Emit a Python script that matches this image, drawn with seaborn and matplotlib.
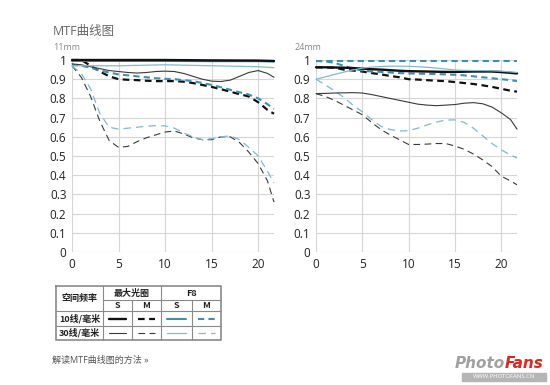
import numpy as np
import pandas as pd
import matplotlib
matplotlib.use("Agg")
import matplotlib.pyplot as plt
import seaborn as sns

# ---- data ----
x_full = [0, 1, 2, 3, 4, 5, 6, 7, 8, 9, 10, 11, 12, 13, 14, 15, 16, 17, 18, 19, 20, 21, 21.7]
x_flat = [0, 5, 10, 15, 20, 21.7]

# 11mm
w_10s_max = [1.0, 1.0, 1.0, 0.998, 0.997, 0.995]
w_10s_f8 = [0.995, 0.995, 0.995, 0.994, 0.994, 0.992]
w_30s_f8 = [0.97, 0.97, 0.975, 0.97, 0.965, 0.96]
w_30s_max = [0.98, 0.975, 0.965, 0.955, 0.945, 0.94, 0.935, 0.932, 0.935, 0.94, 0.942, 0.94,
             0.93, 0.915, 0.9, 0.89, 0.888, 0.895, 0.915, 0.935, 0.945, 0.93, 0.91]
w_10m_max = [1.0, 1.0, 0.97, 0.94, 0.915, 0.9, 0.897, 0.895, 0.892, 0.89, 0.89, 0.89,
             0.887, 0.88, 0.87, 0.86, 0.848, 0.835, 0.822, 0.81, 0.78, 0.74, 0.72]
w_10m_f8 = [0.975, 0.97, 0.96, 0.945, 0.935, 0.925, 0.92, 0.915, 0.91, 0.905, 0.902, 0.9,
            0.895, 0.89, 0.88, 0.87, 0.858, 0.845, 0.832, 0.82, 0.8, 0.77, 0.745]
w_30m_max = [0.97, 0.91, 0.81, 0.68, 0.58, 0.545, 0.55, 0.575, 0.595, 0.61, 0.625, 0.63,
             0.615, 0.595, 0.585, 0.585, 0.6, 0.6, 0.57, 0.52, 0.46, 0.37, 0.26]
w_30m_f8 = [0.97, 0.93, 0.85, 0.72, 0.65, 0.64, 0.645, 0.65, 0.655, 0.658, 0.657, 0.645,
            0.62, 0.6, 0.585, 0.59, 0.6, 0.605, 0.585, 0.545, 0.5, 0.42, 0.36]

# 24mm
t_10s_max = [0.962, 0.962, 0.961, 0.96, 0.958, 0.955, 0.952, 0.95, 0.947, 0.944, 0.942, 0.941,
             0.94, 0.939, 0.938, 0.938, 0.939, 0.94, 0.94, 0.94, 0.937, 0.933, 0.93]
t_30s_f8 = [0.9, 0.912, 0.925, 0.937, 0.948, 0.958, 0.963, 0.966, 0.968, 0.968, 0.967, 0.965,
            0.962, 0.958, 0.953, 0.948, 0.946, 0.945, 0.945, 0.944, 0.942, 0.938, 0.935]
t_10m_f8_top = [0.995, 0.995, 0.995, 0.995, 0.995, 0.995]
t_10m_f8 = [0.995, 0.993, 0.985, 0.97, 0.955, 0.945, 0.94, 0.938, 0.935, 0.932, 0.93, 0.929,
            0.928, 0.927, 0.925, 0.923, 0.92, 0.915, 0.91, 0.905, 0.9, 0.895, 0.89]
t_10m_max = [0.962, 0.961, 0.96, 0.95, 0.945, 0.94, 0.932, 0.925, 0.917, 0.91, 0.9, 0.898,
             0.895, 0.892, 0.89, 0.885, 0.88, 0.875, 0.868, 0.86, 0.85, 0.84, 0.835]
t_30s_max = [0.825, 0.826, 0.828, 0.829, 0.83, 0.828, 0.82, 0.81, 0.8, 0.79, 0.78, 0.77,
             0.765, 0.762, 0.765, 0.768, 0.775, 0.778, 0.772, 0.755, 0.725, 0.69, 0.64]
t_30m_max = [0.825, 0.81, 0.79, 0.765, 0.74, 0.715, 0.675, 0.638, 0.61, 0.585, 0.56, 0.56,
             0.562, 0.565, 0.565, 0.552, 0.535, 0.51, 0.48, 0.445, 0.395, 0.37, 0.35]
t_30m_f8 = [0.9, 0.87, 0.84, 0.805, 0.765, 0.73, 0.69, 0.655, 0.638, 0.63, 0.632, 0.645,
            0.662, 0.677, 0.687, 0.688, 0.675, 0.645, 0.605, 0.565, 0.532, 0.505, 0.489]

y_ticks = [0, 0.1, 0.2, 0.3, 0.4, 0.5, 0.6, 0.7, 0.8, 0.9, 1]
y_labels = ["0", "0.1", "0.2", "0.3", "0.4", "0.5", "0.6", "0.7", "0.8", "0.9", "1"]
x_ticks = [0, 5, 10, 15, 20]

# ---- styles ----
BLACK, DARK = "#111111", "#3a3a3a"
BLUE, LBLUE = "#3f8fb5", "#7ebbd0"
styles = {
    "10s_max": dict(color=BLACK, lw=1.7, ls="-"),
    "10m_max": dict(color=BLACK, lw=1.6, ls=(0, (3, 2))),
    "30s_max": dict(color=DARK, lw=0.8, ls="-"),
    "30m_max": dict(color=DARK, lw=0.8, ls=(0, (6, 4))),
    "10s_f8": dict(color=BLUE, lw=1.5, ls="-"),
    "10m_f8": dict(color=BLUE, lw=1.5, ls=(0, (3, 2))),
    "30s_f8": dict(color=LBLUE, lw=0.9, ls="-"),
    "30m_f8": dict(color=LBLUE, lw=0.9, ls=(0, (6, 4))),
}

sns.set_style("white")
plt.rcParams["font.family"] = ["Open Sans", "Noto Sans CJK SC", "DejaVu Sans"]

fig = plt.figure(figsize=(5.5, 3.85), dpi=100)
W, H = 550.0, 385.0


def add_panel(left_px, right_px):
    ax = fig.add_axes([left_px / W, 1 - 252 / H, (right_px - left_px) / W, (252 - 60) / H])
    return ax


def draw(ax, x, y, key):
    s = styles[key]
    sns.lineplot(x=x, y=y, ax=ax, color=s["color"], lw=s["lw"], linestyle=s["ls"],
                 clip_on=False, estimator=None, sort=False)


def style_axes(ax):
    ax.set_xlim(0, 21.7)
    ax.set_ylim(0, 1)
    ax.set_xticks(x_ticks)
    ax.set_yticks(y_ticks)
    ax.set_yticklabels(y_labels)
    ax.grid(True, color="#d6d6d6", lw=0.8)
    ax.set_axisbelow(True)
    for sp in ax.spines.values():
        sp.set_visible(False)
    ax.tick_params(length=0, labelsize=8.5, colors="#222222", pad=4)


ax1 = add_panel(72, 274)
draw(ax1, x_full, w_30m_max, "30m_max")
draw(ax1, x_full, w_30m_f8, "30m_f8")
draw(ax1, x_full, w_10m_max, "10m_max")
draw(ax1, x_full, w_10m_f8, "10m_f8")
draw(ax1, x_full, w_30s_max, "30s_max")
draw(ax1, x_flat, w_30s_f8, "30s_f8")
draw(ax1, x_flat, w_10s_f8, "10s_f8")
draw(ax1, x_flat, w_10s_max, "10s_max")
style_axes(ax1)

ax2 = add_panel(316, 517)
draw(ax2, x_full, t_30m_max, "30m_max")
draw(ax2, x_full, t_30m_f8, "30m_f8")
draw(ax2, x_full, t_30s_max, "30s_max")
draw(ax2, x_full, t_10m_max, "10m_max")
draw(ax2, x_full, t_10m_f8, "10m_f8")
draw(ax2, x_flat, t_10m_f8_top, "10m_f8")
draw(ax2, x_full, t_10s_max, "10s_max")
draw(ax2, x_full, t_30s_f8, "30s_f8")
style_axes(ax2)

# ---- overlay in pixel coords for texts, table and logo ----
ov = fig.add_axes([0, 0, 1, 1], zorder=-1)
ov.set_xlim(0, W)
ov.set_ylim(H, 0)
ov.axis("off")

ov.text(53, 31, "MTF曲线图", fontsize=9, color="#666666", va="center", ha="left")
ov.text(53, 47, "11mm", fontsize=6.5, color="#888888", va="center", ha="left")
ov.text(295, 47, "24mm", fontsize=6.5, color="#888888", va="center", ha="left")

# table
tc = "#8a8a8a"
cols = [56, 103, 132, 161, 192, 221]
rows = [286, 300, 311, 326, 340]
ov.plot([56, 221, 221, 56, 56], [286, 286, 340, 340, 286], color=tc, lw=1.2)
for yy in rows[2:4]:
    ov.plot([56, 221], [yy, yy], color=tc, lw=0.8)
ov.plot([103, 221], [300, 300], color=tc, lw=0.8)
ov.plot([103, 103], [286, 340], color=tc, lw=0.8)
ov.plot([161, 161], [286, 340], color=tc, lw=0.8)
for xx in (132, 192):
    ov.plot([xx, xx], [300, 340], color=tc, lw=0.8)

tfont = dict(fontsize=6.5, color="#222222", fontweight="bold", va="center", ha="center",
             family=["Noto Sans CJK SC", "DejaVu Sans"])
ov.text(79.5, 298, "空间频率", **tfont)
ov.text(132, 293, "最大光圈", **tfont)
ov.text(191.5, 293, "F8", **tfont)
for i, lab in enumerate(["S", "M", "S", "M"]):
    ov.text((cols[i + 1] + cols[i + 2]) / 2, 305.5, lab, **tfont)
ov.text(79.5, 318.5, "10线/毫米", **tfont)
ov.text(79.5, 333, "30线/毫米", **tfont)

keys10 = ["10s_max", "10m_max", "10s_f8", "10m_f8"]
keys30 = ["30s_max", "30m_max", "30s_f8", "30m_f8"]
for row_y, keys in ((318.5, keys10), (333, keys30)):
    for i, k in enumerate(keys):
        s = styles[k]
        ov.plot([cols[i + 1] + 6, cols[i + 2] - 6], [row_y, row_y], color=s["color"],
                lw=s["lw"], linestyle=s["ls"])

ov.text(52, 360, "解读MTF曲线图的方法 »", fontsize=6.5, color="#555555", va="center", ha="left")

# logo
ov.text(505, 364, "Photo", fontsize=11, color="#a0a0a0", fontweight="bold", style="italic",
        va="center", ha="right", family="DejaVu Sans")
ov.text(505, 364, "Fans", fontsize=11, color="#e3261d", fontweight="bold", style="italic",
        va="center", ha="left", family="DejaVu Sans")
ov.add_patch(plt.Rectangle((462, 373), 84, 8, color="#b5b5b5"))
ov.text(504, 377, "WWW.PHOTOFANS.CN", fontsize=4.2, color="white", va="center", ha="center")

fig.savefig("out.png", dpi=100)
